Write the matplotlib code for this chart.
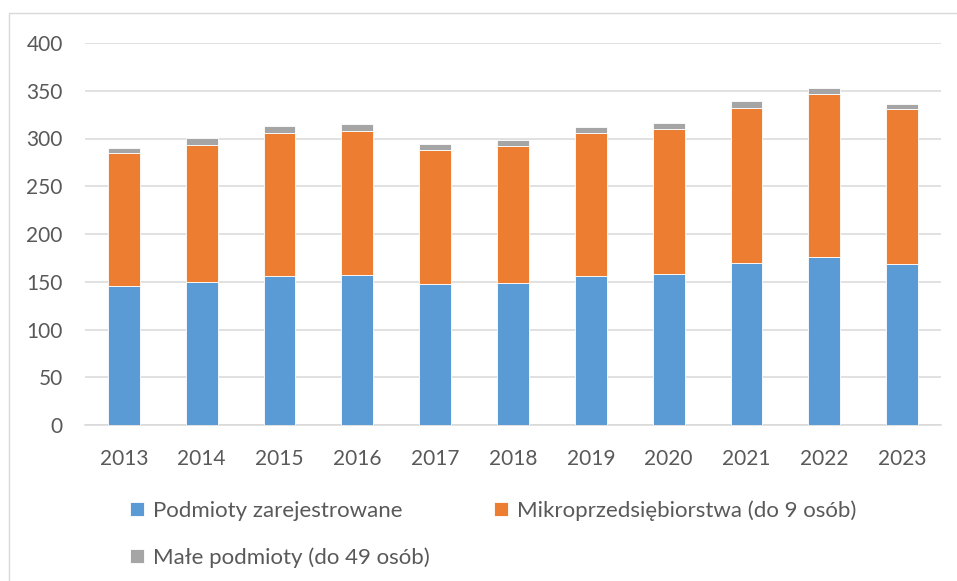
import matplotlib.pyplot as plt
from matplotlib.patches import Rectangle

lata = ['2013', '2014', '2015', '2016', '2017', '2018', '2019', '2020', '2021', '2022', '2023']
zarejestrowane = [145.5, 150.0, 156.0, 157.0, 147.3, 149.0, 156.0, 158.0, 169.6, 176.3, 168.2]
mikro = [139.0, 143.5, 149.4, 151.2, 140.3, 143.5, 150.1, 152.3, 162.7, 170.6, 163.0]
male = [5.9, 7.3, 7.4, 6.6, 6.6, 5.9, 6.3, 6.3, 6.6, 6.0, 5.3]

etykiety = ['Podmioty zarejestrowane', 'Mikroprzedsiębiorstwa (do 9 osób)', 'Małe podmioty (do 49 osób)']
kolory = ['#5B9BD5', '#ED7D31', '#A5A5A5']
tekst = '#595959'

plt.rcParams['font.family'] = ['Lato', 'DejaVu Sans']

fig = plt.figure(figsize=(9.57, 5.81), dpi=100)
ax = fig.add_axes([85 / 957, 1 - 425 / 581, (941 - 85) / 957, (425 - 43) / 581])

x = range(len(lata))
dol2 = [a + b for a, b in zip(zarejestrowane, mikro)]
b1 = ax.bar(x, zarejestrowane, width=0.41, color=kolory[0], edgecolor='white', linewidth=0.6, zorder=3)
b2 = ax.bar(x, mikro, width=0.41, bottom=zarejestrowane, color=kolory[1], edgecolor='white', linewidth=0.6, zorder=3)
b3 = ax.bar(x, male, width=0.41, bottom=dol2, color=kolory[2], edgecolor='white', linewidth=0.6, zorder=3)

ax.set_xlim(-0.5, len(lata) - 0.5)
ax.set_ylim(0, 400)
ax.set_yticks(range(0, 401, 50))
ax.set_xticks(list(x))
ax.set_xticklabels(lata)
ax.grid(axis='y', color='#D9D9D9', linewidth=1.1, zorder=0)
for s in ['top', 'right', 'left']:
    ax.spines[s].set_visible(False)
ax.spines['bottom'].set_color('#D9D9D9')
ax.spines['bottom'].set_linewidth(1.1)
ax.tick_params(length=0, labelsize=15, colors=tekst)
ax.tick_params(axis='y', pad=16)
ax.tick_params(axis='x', pad=17)

fig.legend([b1, b3, b2], [etykiety[0], etykiety[2], etykiety[1]], ncol=2,
           loc='upper left', bbox_to_anchor=(130 / 957, 1 - 500 / 581),
           frameon=False, fontsize=16, labelcolor=tekst,
           handlelength=0.62, handleheight=0.62, handletextpad=0.4,
           columnspacing=2.9, labelspacing=1.2, borderpad=0, borderaxespad=0)

fig.patches.append(Rectangle((9 / 957, -0.1), 1.2, 1 - 13 / 581 + 0.1, transform=fig.transFigure,
                             fill=False, edgecolor='#D9D9D9', linewidth=1))

fig.savefig('out.png', dpi=100)
